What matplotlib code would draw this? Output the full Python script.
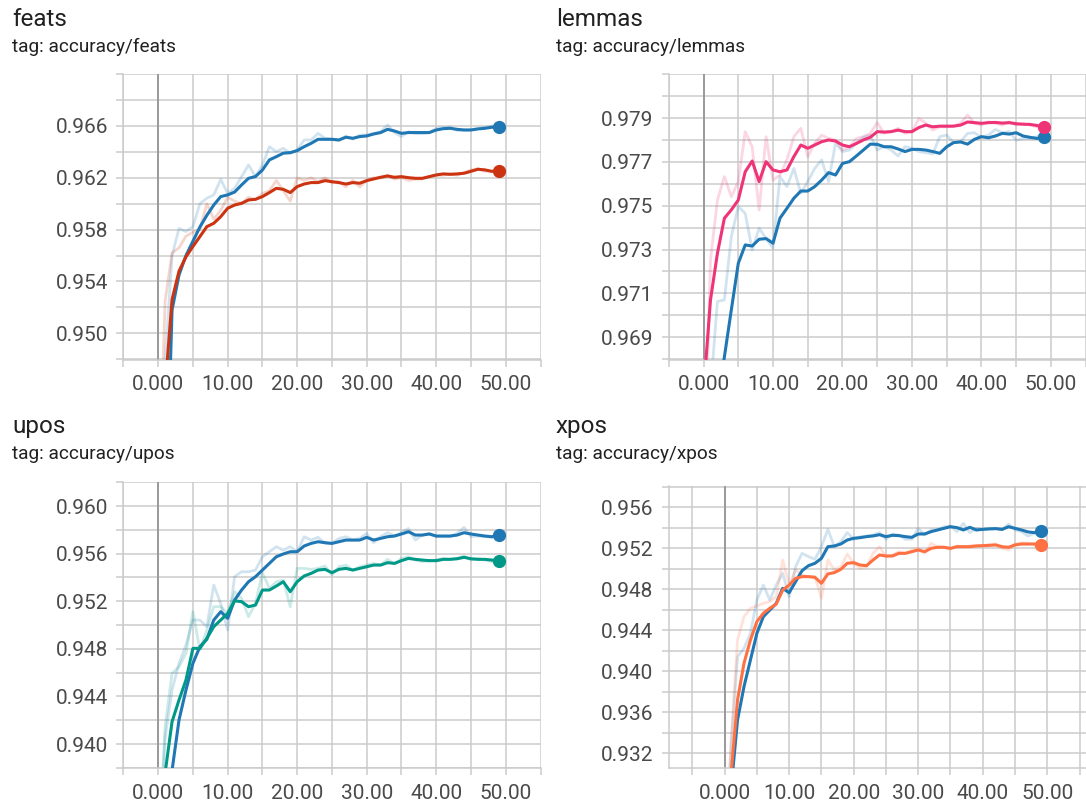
import matplotlib
matplotlib.use("Agg")
import matplotlib.pyplot as plt
from matplotlib.ticker import MultipleLocator

plt.rcParams['font.family'] = ['Roboto', 'DejaVu Sans']

steps = list(range(50))

# ---- feats ----
feats_a_smooth = [0.9000, 0.9340, 0.9518, 0.9545, 0.9560, 0.9571, 0.9582, 0.9591, 0.9599, 0.96055,
                  0.96068, 0.9609, 0.96145, 0.96196, 0.9621, 0.9626, 0.96338, 0.96363, 0.9639, 0.96394,
                  0.9641, 0.9644, 0.96466, 0.96497, 0.96497, 0.96497, 0.96492, 0.96513, 0.96505, 0.96518,
                  0.96523, 0.96538, 0.96549, 0.96574, 0.96561, 0.96543, 0.96549, 0.96549, 0.96549, 0.96549,
                  0.96569, 0.96579, 0.96582, 0.96574, 0.96569, 0.96569, 0.96577, 0.96582, 0.9659, 0.96595]
feats_a_raw = [0.9000, 0.9478, 0.9560, 0.9581, 0.95785, 0.95823, 0.9600, 0.96042, 0.96068, 0.96188,
               0.9608, 0.96119, 0.96209, 0.96299, 0.96209, 0.96299, 0.9644, 0.96402, 0.96428, 0.96389,
               0.96415, 0.96492, 0.96492, 0.96543, 0.96505, 0.96497, 0.96487, 0.96523, 0.96497, 0.9653,
               0.9653, 0.96543, 0.96556, 0.96608, 0.96549, 0.96518, 0.96556, 0.96543, 0.96543, 0.96549,
               0.96582, 0.96587, 0.9659, 0.96564, 0.96569, 0.96569, 0.96582, 0.96587, 0.966, 0.966]
feats_b_smooth = [0.9200, 0.9458, 0.9526, 0.9548, 0.9559, 0.9567, 0.95746, 0.95823, 0.95849, 0.959,
                  0.95965, 0.9599, 0.96003, 0.96029, 0.96034, 0.96055, 0.96086, 0.96119, 0.96111, 0.96086,
                  0.96132, 0.96152, 0.96163, 0.96163, 0.96178, 0.9617, 0.96163, 0.96152, 0.96163, 0.96158,
                  0.96178, 0.96191, 0.96204, 0.96214, 0.96204, 0.96209, 0.96201, 0.96196, 0.96196, 0.96209,
                  0.96222, 0.9623, 0.96227, 0.9623, 0.96235, 0.9625, 0.96266, 0.96261, 0.9625, 0.96255]
feats_b_raw = [0.936, 0.9525, 0.9562, 0.9566, 0.9575, 0.9578, 0.9580, 0.9600, 0.9588, 0.9595,
               0.9605, 0.9602, 0.9600, 0.9605, 0.9603, 0.9608, 0.9610, 0.9618, 0.9610, 0.9602,
               0.9620, 0.9618, 0.9620, 0.9617, 0.9620, 0.9616, 0.9617, 0.9613, 0.9618, 0.9613,
               0.9618, 0.9620, 0.9620, 0.9622, 0.9619, 0.9620, 0.9618, 0.9619, 0.9619, 0.9621,
               0.9622, 0.9622, 0.9623, 0.9622, 0.9624, 0.9626, 0.9627, 0.9625, 0.9625, 0.9625]

# ---- lemmas ----
lemmas_a_smooth = [0.955, 0.962, 0.9660, 0.9681, 0.97025, 0.97237, 0.97321, 0.97316, 0.97347, 0.9735,
                   0.97329, 0.97443, 0.97488, 0.97534, 0.97567, 0.97567, 0.97587, 0.97617, 0.97651, 0.9764,
                   0.97693, 0.97701, 0.97727, 0.97754, 0.97781, 0.9778, 0.97769, 0.97769, 0.97759, 0.97747,
                   0.97757, 0.97757, 0.97754, 0.97747, 0.97739, 0.97769, 0.97788, 0.97791, 0.97781, 0.97803,
                   0.97815, 0.9781, 0.97818, 0.9783, 0.97827, 0.97833, 0.97818, 0.97812, 0.97807, 0.97812]
lemmas_a_raw = [0.955, 0.96658, 0.97063, 0.9707, 0.97359, 0.97496, 0.97465, 0.97298, 0.97397, 0.97351,
                0.97306, 0.97633, 0.97587, 0.9767, 0.97557, 0.9761, 0.9767, 0.97709, 0.9761, 0.97785,
                0.97747, 0.97754, 0.97785, 0.97812, 0.97822, 0.97754, 0.97772, 0.97754, 0.97727, 0.97769,
                0.97762, 0.97747, 0.97742, 0.97736, 0.97815, 0.97822, 0.97788, 0.97792, 0.9783, 0.97833,
                0.97812, 0.97822, 0.97848, 0.97833, 0.97838, 0.97799, 0.97807, 0.97807, 0.97815, 0.97833]
lemmas_b_smooth = [0.9665, 0.9707, 0.97283, 0.97443, 0.97481, 0.97526, 0.97655, 0.97704, 0.9761, 0.97701,
                   0.97663, 0.97655, 0.97663, 0.97724, 0.97777, 0.97762, 0.97777, 0.97792, 0.978, 0.97795,
                   0.97777, 0.97769, 0.97784, 0.978, 0.97812, 0.97838, 0.97836, 0.97838, 0.97845, 0.97838,
                   0.97838, 0.97857, 0.97868, 0.9786, 0.97863, 0.97863, 0.97863, 0.97868, 0.97882, 0.97879,
                   0.97876, 0.97879, 0.9788, 0.97877, 0.97879, 0.97874, 0.97872, 0.97871, 0.97866, 0.9786]
lemmas_b_raw = [0.9612, 0.97253, 0.97526, 0.97633, 0.97541, 0.9761, 0.97838, 0.97769, 0.97481, 0.97815,
                0.97617, 0.9764, 0.97709, 0.97815, 0.97853, 0.97724, 0.97785, 0.97822, 0.97807, 0.978,
                0.97754, 0.97769, 0.97807, 0.97815, 0.9783, 0.97879, 0.9783, 0.97838, 0.97853, 0.9783,
                0.97838, 0.97898, 0.97876, 0.97845, 0.9786, 0.9786, 0.97864, 0.97876, 0.97914, 0.97876,
                0.97868, 0.97883, 0.97876, 0.97868, 0.97883, 0.97868, 0.97873, 0.97868, 0.9786, 0.97853]

# ---- upos ----
upos_a_smooth = [0.915, 0.930, 0.93779, 0.94202, 0.94454, 0.94678, 0.94818, 0.9488, 0.95042, 0.95112,
                 0.95056, 0.9521, 0.95294, 0.95364, 0.95406, 0.95462, 0.95518, 0.95574, 0.95597, 0.95616,
                 0.95616, 0.95664, 0.95686, 0.957, 0.95692, 0.95686, 0.957, 0.95714, 0.95714, 0.95714,
                 0.95737, 0.95714, 0.95728, 0.95742, 0.95748, 0.95765, 0.95784, 0.95756, 0.95756, 0.95765,
                 0.95748, 0.95748, 0.95748, 0.95756, 0.95776, 0.95765, 0.95756, 0.95748, 0.95742, 0.95756]
upos_a_raw = [0.930, 0.9405, 0.94454, 0.94678, 0.94832, 0.95042, 0.95042, 0.94986, 0.95336, 0.95182,
              0.94958, 0.95406, 0.95448, 0.95448, 0.95462, 0.95574, 0.95616, 0.95658, 0.9563, 0.95658,
              0.95616, 0.95742, 0.95714, 0.95737, 0.95686, 0.95686, 0.95728, 0.95742, 0.95714, 0.95728,
              0.9577, 0.95692, 0.95742, 0.95776, 0.95748, 0.95776, 0.95812, 0.95714, 0.95756, 0.9577,
              0.95742, 0.95742, 0.95742, 0.9577, 0.95821, 0.95742, 0.95748, 0.95742, 0.95737, 0.9577]
upos_b_smooth = [0.925, 0.93757, 0.94188, 0.9437, 0.94538, 0.94804, 0.94804, 0.94888, 0.94986, 0.95042,
                 0.95098, 0.95204, 0.95196, 0.95154, 0.95168, 0.95294, 0.95294, 0.95328, 0.95364, 0.9528,
                 0.95364, 0.95412, 0.95434, 0.95462, 0.95468, 0.9544, 0.95468, 0.95476, 0.95462, 0.95476,
                 0.9549, 0.95504, 0.95504, 0.95524, 0.95518, 0.95541, 0.9556, 0.95552, 0.95546, 0.95541,
                 0.95541, 0.95552, 0.95552, 0.95557, 0.95569, 0.95557, 0.95552, 0.95552, 0.95546, 0.95541]
upos_b_raw = [0.930, 0.9415, 0.94594, 0.9465, 0.94762, 0.95112, 0.9479, 0.94958, 0.95154, 0.95154,
              0.95098, 0.9528, 0.95224, 0.9507, 0.95182, 0.9544, 0.95308, 0.95364, 0.95378, 0.95154,
              0.95476, 0.95476, 0.95468, 0.95476, 0.95496, 0.9542, 0.9549, 0.95504, 0.95462, 0.9549,
              0.95504, 0.95518, 0.95504, 0.95552, 0.95513, 0.9556, 0.95574, 0.95546, 0.95532, 0.95541,
              0.95546, 0.9556, 0.95552, 0.9556, 0.9558, 0.95546, 0.9556, 0.95546, 0.95532, 0.95541]

# ---- xpos ----
xpos_a_smooth = [0.91, 0.92852, 0.93525, 0.9385, 0.94111, 0.94371, 0.94533, 0.94598, 0.94663, 0.9481,
                 0.94767, 0.94875, 0.94982, 0.95031, 0.95054, 0.95102, 0.95216, 0.95223, 0.95242, 0.95281,
                 0.95298, 0.95304, 0.95314, 0.95321, 0.95333, 0.95314, 0.95327, 0.95324, 0.95314, 0.95307,
                 0.9534, 0.9534, 0.95363, 0.95379, 0.95395, 0.95411, 0.95402, 0.95379, 0.95405, 0.95379,
                 0.95385, 0.95389, 0.95392, 0.95385, 0.95411, 0.95395, 0.95379, 0.9536, 0.95353, 0.95369]
xpos_a_raw = [0.92, 0.9328, 0.94143, 0.94224, 0.94371, 0.94696, 0.94842, 0.94696, 0.94842, 0.94956,
              0.94728, 0.95021, 0.95151, 0.95119, 0.95093, 0.95216, 0.95385, 0.95216, 0.95265, 0.95353,
              0.95288, 0.95314, 0.9532, 0.9533, 0.95353, 0.95288, 0.9534, 0.9533, 0.95288, 0.95288,
              0.95395, 0.9533, 0.95379, 0.95379, 0.95411, 0.95418, 0.95363, 0.95444, 0.95353, 0.95395,
              0.95385, 0.95395, 0.95395, 0.95379, 0.95437, 0.95379, 0.95363, 0.9532, 0.95346, 0.95395]
xpos_b_smooth = [0.91, 0.9300, 0.9372, 0.94078, 0.94306, 0.94485, 0.94566, 0.94615, 0.94657, 0.94793,
                 0.94842, 0.94907, 0.94924, 0.94924, 0.94917, 0.94859, 0.9495, 0.94963, 0.94995, 0.95054,
                 0.9506, 0.95037, 0.95031, 0.95086, 0.95135, 0.95125, 0.95125, 0.95151, 0.95151, 0.95167,
                 0.95184, 0.95167, 0.952, 0.9521, 0.9521, 0.952, 0.95216, 0.95216, 0.95216, 0.95223,
                 0.95226, 0.95229, 0.95233, 0.95216, 0.9521, 0.95233, 0.95242, 0.95242, 0.95242, 0.95233]
xpos_b_raw = [0.92, 0.9330, 0.94306, 0.94533, 0.94615, 0.94637, 0.94663, 0.9468, 0.94728, 0.95086,
              0.94842, 0.94989, 0.9494, 0.94924, 0.94924, 0.94712, 0.95086, 0.94989, 0.95021, 0.95145,
              0.95054, 0.95005, 0.95021, 0.95151, 0.95216, 0.95119, 0.95135, 0.95167, 0.95151, 0.95184,
              0.952, 0.95151, 0.95249, 0.95216, 0.9521, 0.9519, 0.95223, 0.95216, 0.95223, 0.95229,
              0.95229, 0.95233, 0.95242, 0.952, 0.95184, 0.95242, 0.95255, 0.95249, 0.95242, 0.95233]

x_ticks = [0, 10, 20, 30, 40, 50]
x_labels = ['0.000', '10.00', '20.00', '30.00', '40.00', '50.00']
feats_yticks = [0.950, 0.954, 0.958, 0.962, 0.966]
lemmas_yticks = [0.969, 0.971, 0.973, 0.975, 0.977, 0.979]
upos_yticks = [0.940, 0.944, 0.948, 0.952, 0.956, 0.960]
xpos_yticks = [0.932, 0.936, 0.940, 0.944, 0.948, 0.952, 0.956]

BLUE = '#1f77b4'
GRID = '#cbcbcb'
W, H = 1086, 802

fig = plt.figure(figsize=(W / 100, H / 100), dpi=100)


def rect(l, t, r, b):
    return [l / W, 1 - b / H, (r - l) / W, (b - t) / H]


def panel(box, xlim, ylim, ygrid, yticks, runs, title, tag, tx, ty):
    ax = fig.add_axes(rect(*box))
    ax.set_xlim(*xlim)
    ax.set_ylim(*ylim)
    ax.set_xticks(x_ticks)
    ax.set_xticklabels(x_labels)
    ax.set_yticks(yticks)
    ax.set_yticklabels(['%.3f' % v for v in yticks])
    ax.xaxis.set_minor_locator(MultipleLocator(5))
    ax.yaxis.set_minor_locator(MultipleLocator(ygrid))
    ax.grid(True, which='both', color=GRID, lw=1.1)
    ax.set_axisbelow(True)
    ax.tick_params(which='both', length=5, width=1.1, color=GRID,
                   labelsize=15, labelcolor='#4a4a4a', pad=6)
    for s in ['top', 'right']:
        ax.spines[s].set_visible(False)
    for s in ['left', 'bottom']:
        ax.spines[s].set_color(GRID)
        ax.spines[s].set_linewidth(1.1)
    ax.axvline(0, color='#9a9a9a', lw=1.4, zorder=1.5)

    # faint raw values under the smoothed curves
    for raw, smooth, c in runs:
        ax.plot(steps, raw, color=c, lw=2.0, alpha=0.2, zorder=2)
    for raw, smooth, c in runs:
        ax.plot(steps, smooth, color=c, lw=2.2, zorder=3, solid_joinstyle='round')
        ax.plot(steps[-1], smooth[-1], 'o', color=c, ms=8.5, zorder=4, clip_on=False)

    fig.text(tx / W, 1 - ty / H, title, fontsize=17.5, color='#212121', va='baseline')
    fig.text(tx / W, 1 - (ty + 26) / H, tag, fontsize=13.7, color='#212121', va='baseline')
    return ax


panel((123.4, 74, 540.5, 360), (-5, 55), (0.94794, 0.97001), 0.002, feats_yticks,
      [(feats_a_raw, feats_a_smooth, BLUE), (feats_b_raw, feats_b_smooth, '#cc3311')],
      'feats', 'tag: accuracy/feats', 12, 26)
panel((668.8, 74, 1086, 360), (-5, 55.05), (0.96796, 0.98101), 0.001, lemmas_yticks,
      [(lemmas_a_raw, lemmas_a_smooth, BLUE), (lemmas_b_raw, lemmas_b_smooth, '#ee3377')],
      'lemmas', 'tag: accuracy/lemmas', 556, 26)
panel((123.4, 482, 540.5, 768.3), (-5, 55), (0.93796, 0.96202), 0.002, upos_yticks,
      [(upos_a_raw, upos_a_smooth, BLUE), (upos_b_raw, upos_b_smooth, '#009988')],
      'upos', 'tag: accuracy/upos', 12, 433)
panel((668.8, 486, 1086, 768.3), (-8.65, 56.0), (0.93054, 0.95808), 0.002, xpos_yticks,
      [(xpos_a_raw, xpos_a_smooth, BLUE), (xpos_b_raw, xpos_b_smooth, '#ff7043')],
      'xpos', 'tag: accuracy/xpos', 556, 433)

fig.savefig('out.png', dpi=100)
